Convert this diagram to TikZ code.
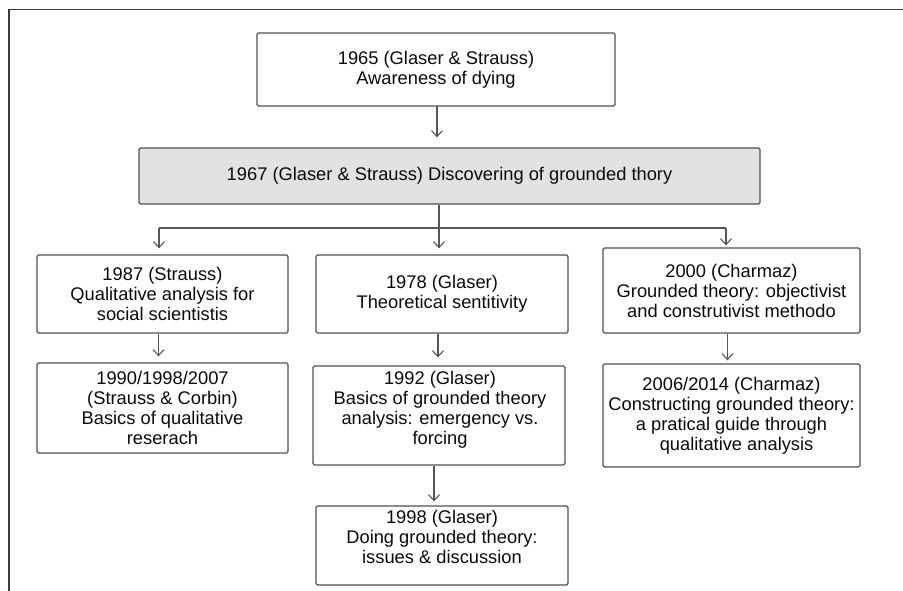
\documentclass[tikz,border=0pt]{standalone}
\usepackage{fontspec}
\setmainfont{Liberation Sans}
\usetikzlibrary{arrows.meta}
\definecolor{boxline}{HTML}{505050}
\definecolor{arrline}{HTML}{555555}
\definecolor{frameline}{HTML}{3A3A3A}
\definecolor{grayfill}{HTML}{E2E2E2}
\definecolor{txtcol}{HTML}{0A0A0A}
\tikzset{
  box/.style={draw=boxline, line width=1.3pt, rounded corners=1.5pt, inner sep=0pt,
    align=center, text=txtcol, font=\fontsize{18.3}{20}\selectfont},
  txt/.style={inner sep=0pt, align=center, text=txtcol, font=\fontsize{18.3}{20}\selectfont},
  arr/.style={draw=arrline, line width=1.1pt, -{Straight Barb[length=6pt,width=11pt,line width=1.1pt]}, shorten >=6pt},
  conn/.style={draw=arrline, line width=1.1pt},
}
\begin{document}
\begin{tikzpicture}[x=1pt,y=-1pt]
\useasboundingbox (0,0) rectangle (903,591);
% open frame (top and left edges)
\draw[frameline, line width=1.5pt] (9,591) -- (9,9.5) -- (903,9.5);

\node[box, minimum width=358pt, minimum height=73pt] (top) at (436,69.5)
  {1965 (Glaser \& Strauss)\\Awareness of dying};
\node[box, fill=grayfill, minimum width=621pt, minimum height=56pt] (gray) at (449.5,176)
  {1967 (Glaser \& Strauss) Discovering of grounded thory};

\node[box, minimum width=251pt, minimum height=78pt] (l1) at (162.5,294)
  {1987 (Strauss)\\Qualitative analysis for\\social scientistis};
\node[box, minimum width=251pt, minimum height=90pt] (l2) at (162.5,408)
  {1990/1998/2007\\(Strauss \& Corbin)\\Basics of qualitative\\reserach};

\node[box, minimum width=252pt, minimum height=78pt] (m1) at (442,294)
  {1978 (Glaser)\\Theoretical sentitivity};
\node[box, minimum width=252pt, minimum height=99pt] (m2) at (439,415.5) {};
\node[txt] (m2t) at (440,410)
  {1992 (Glaser)\\Basics of grounded theory\\analysis: emergency vs.\ \ \\forcing};
\node[box, minimum width=252pt, minimum height=79pt] (m3) at (442,545.5) {};
\node[txt] (m3t) at (442,537)
  {1998 (Glaser)\\Doing grounded theory:\\issues \& discussion};

\node[box, minimum width=257pt, minimum height=85pt] (r1) at (731.5,290.5)
  {2000 (Charmaz)\\Grounded theory: objectivist\\and construtivist methodo};
\node[box, minimum width=257pt, minimum height=103pt] (r2) at (731.5,415.5)
  {2006/2014 (Charmaz)\\Constructing grounded theory:\\a pratical guide through\ \ \\\ \ qualitative analysis};

% connectors
\coordinate (ta) at (437,106);
\draw[arr, shorten >=10pt] (ta) -- (ta |- gray.north);
\coordinate (jl) at (159,228);
\coordinate (jm) at (439,228);
\coordinate (jr) at (726,228);
\draw[conn] (gray.south -| jm) -- (jm);
\draw[conn] (jl) -- (jr);
\draw[arr] (jl) -- (jl |- l1.north);
\draw[arr] (jm) -- (jm |- m1.north);
\draw[arr, shorten >=2pt] (jr) -- (jr |- r1.north);

\draw[arr] ([xshift=-4pt]l1.south) -- ([xshift=-4pt]l2.north);
\draw[arr, shorten >=8pt] ([xshift=-4pt]m1.south) -- ([xshift=-1pt]m2.north);
\draw[arr, shorten >=3pt] ([xshift=-4pt]r1.south) -- ([xshift=-4pt]r2.north);
\draw[arr, shorten >=4pt] ([xshift=-5pt]m2.south) -- ([xshift=-8pt]m3.north);
\end{tikzpicture}
\end{document}
